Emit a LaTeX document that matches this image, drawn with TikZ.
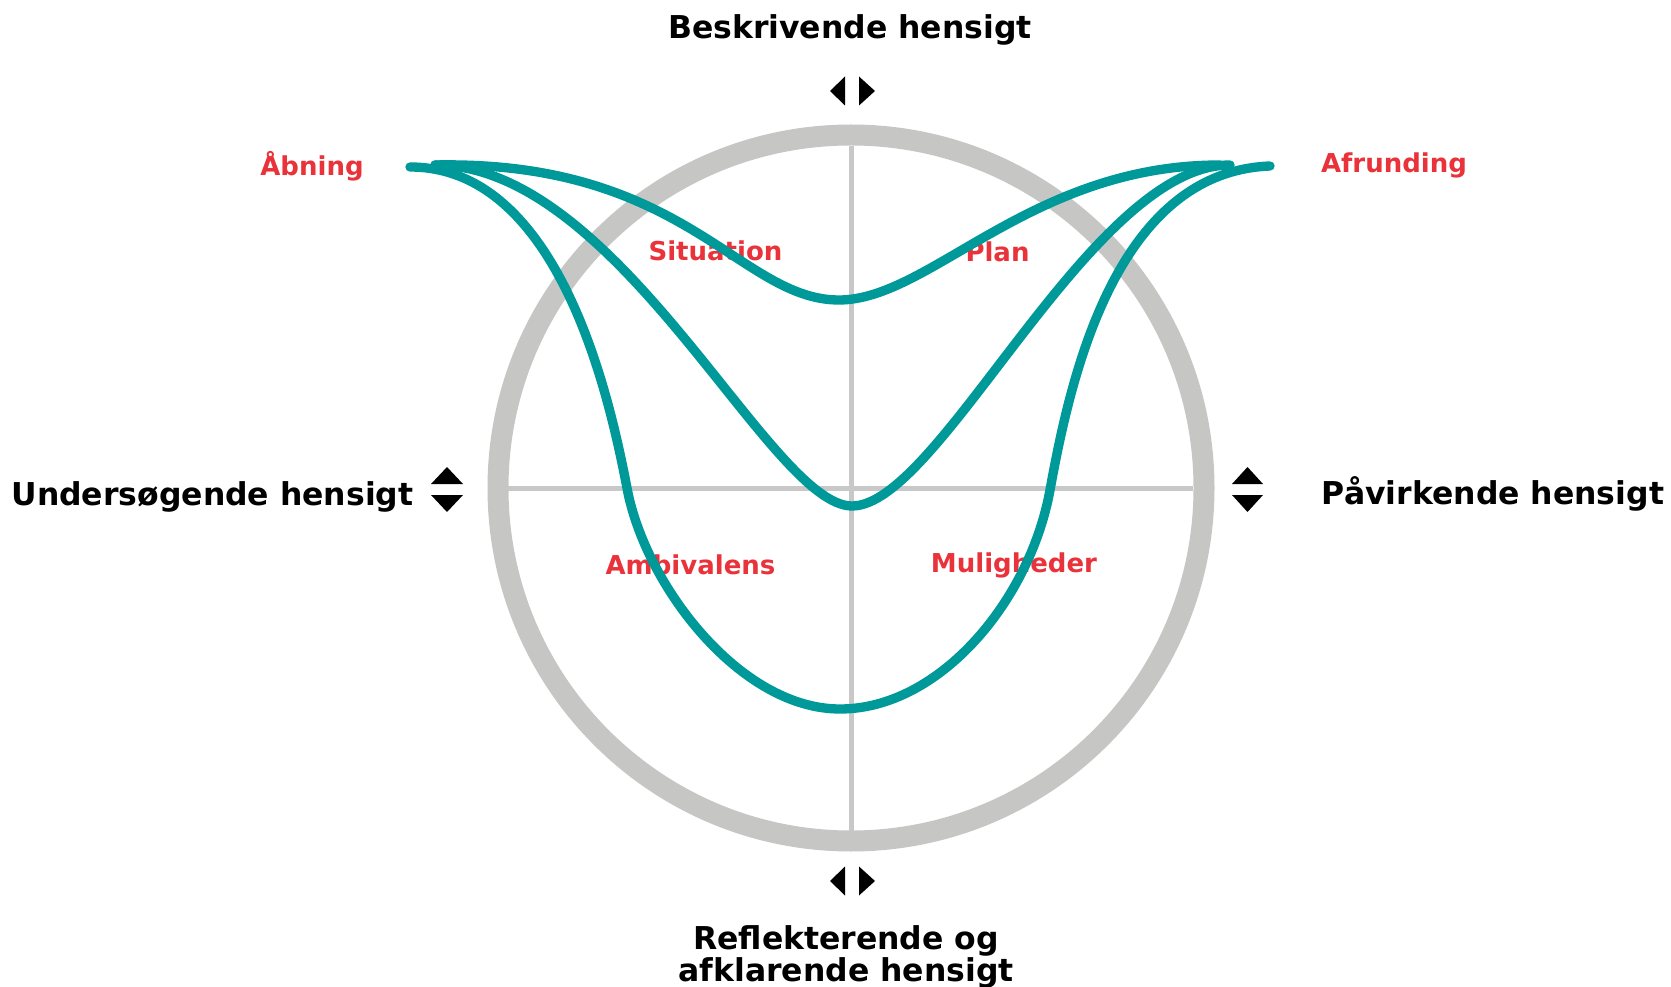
\documentclass[tikz,border=0pt]{standalone}
\usepackage{fontspec}
\setmainfont{DejaVu Sans}
\definecolor{teal}{RGB}{0,153,153}
\definecolor{ringgrey}{RGB}{198,198,196}
\definecolor{axisgrey}{RGB}{200,200,200}
\definecolor{labelred}{RGB}{233,50,58}
\tikzset{
  ringline/.style={draw=ringgrey, line width=15.75pt},
  axisline/.style={draw=axisgrey, line width=3.75pt},
  flow/.style={draw=teal, line width=7pt, line cap=round},
  headtext/.style={font=\fontsize{23.6}{26.5}\selectfont\bfseries, text=black, align=center, inner sep=0pt},
  phasetext/.style={font=\fontsize{19.5}{22}\selectfont\bfseries, text=labelred, inner sep=0pt},
  tri/.style={fill=black, draw=none}
}
\begin{document}
\begin{tikzpicture}[x=0.75pt, y=-0.75pt]
\useasboundingbox (0,0) rectangle (1671,987);
% ring and axes
\coordinate (c) at (851,488);
\draw[ringline] (c) circle[radius=353];
\draw[axisline] (508,488) -- (1193,488);
\draw[axisline] (851,146) -- (851,831);
% arrow triangles
\fill[tri] (830,91) -- (845,76.5) -- (845,105.5) -- cycle;
\fill[tri] (875,91) -- (859,76.5) -- (859,105.5) -- cycle;
\fill[tri] (830,881) -- (845,866.5) -- (845,895.5) -- cycle;
\fill[tri] (875,881) -- (859,866.5) -- (859,895.5) -- cycle;
\fill[tri] (447,467) -- (431,484) -- (463,484) -- cycle;
\fill[tri] (431,495) -- (463,495) -- (447,512) -- cycle;
\fill[tri] (1247.5,467) -- (1232,484) -- (1263,484) -- cycle;
\fill[tri] (1232,495) -- (1263,495) -- (1247.5,512) -- cycle;
% headings
\node[headtext, anchor=base] (top) at (850,39) {Beskrivende hensigt};
\node[headtext, anchor=base] (left) at (212.5,505) {Undersøgende hensigt};
\node[headtext, anchor=base] (right) at (1493,504) {Påvirkende hensigt};
\node[headtext, anchor=base] (bot1) at (846,949) {Reflekterende og};
\node[headtext, anchor=base] (bot2) at (846,981) {afklarende hensigt};
% phase labels
\node[phasetext, anchor=base] (open) at (312,176) {Åbning};
\node[phasetext, anchor=base] (close) at (1394,173) {Afrunding};
\node[phasetext, anchor=base] (sit) at (715.5,261) {Situation};
\node[phasetext, anchor=base] (plan) at (997.5,262) {Plan};
\node[phasetext, anchor=base] (amb) at (690.5,574) {Ambivalens};
\node[phasetext, anchor=base] (mul) at (1014,572) {Muligheder};
% curves
\coordinate (s0) at (410,167);
\coordinate (s1) at (435,165);
\coordinate (e1) at (1220,165);
\coordinate (e2) at (1230,165);
\coordinate (e0) at (1270,166);
\draw[flow] (s1) .. controls (685,160) and (740,300) .. (839,300)
            .. controls (930,300) and (1030,165) .. (e1);
\draw[flow] (s1) .. controls (620,165) and (770,506) .. (852,506)
            .. controls (940,506) and (1090,165) .. (e2);
\draw[flow] (s0) .. controls (560,167) and (610,400) .. (627,488)
            .. controls (645,585) and (740,709) .. (840,709)
            .. controls (940,709) and (1030,600) .. (1050,490)
            .. controls (1070,380) and (1115,172) .. (e0);
\end{tikzpicture}
\end{document}
